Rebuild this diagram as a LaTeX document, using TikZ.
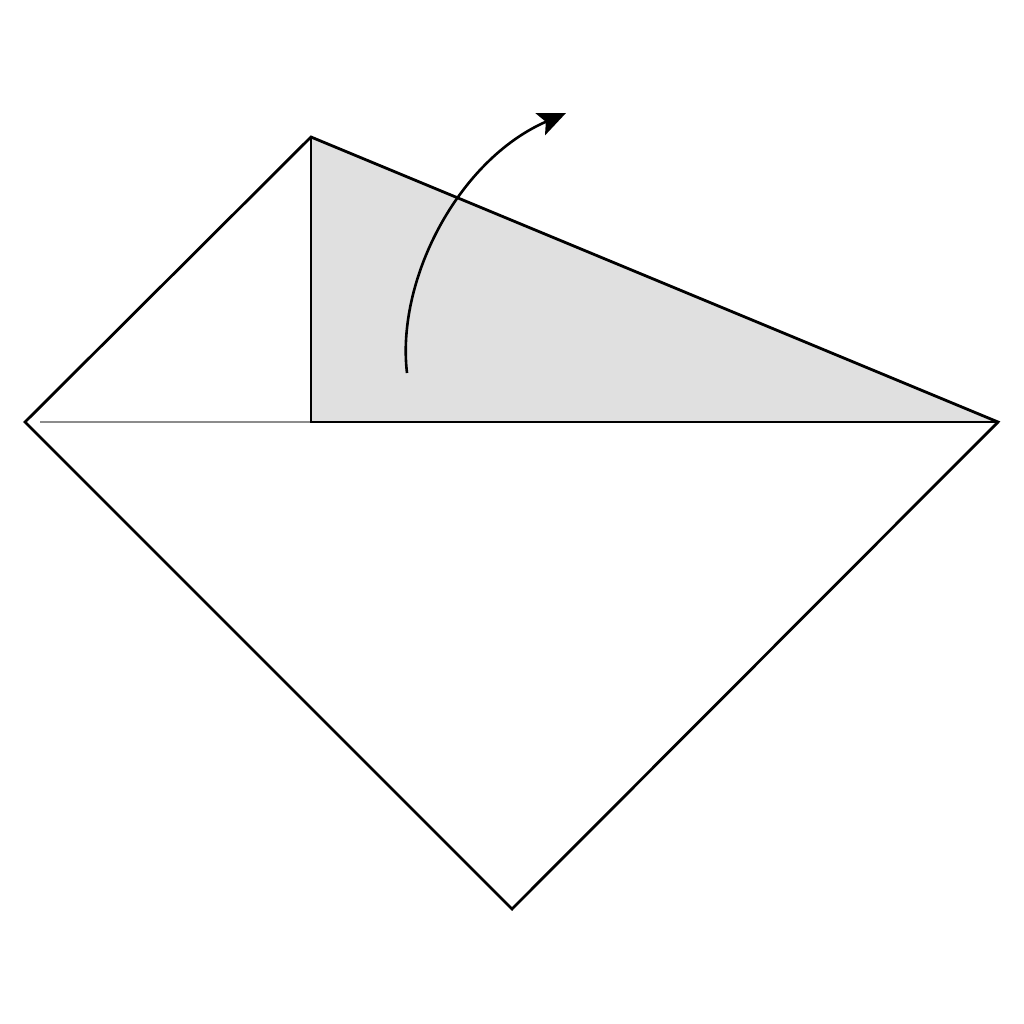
\documentclass[tikz,border=0pt]{standalone}
\usetikzlibrary{arrows.meta}

\begin{document}
\begin{tikzpicture}[x=1pt,y=-1pt,line join=miter]
    \tikzstyle{edge}=[draw=black,line width=2.8pt]
    \tikzstyle{crease}=[draw=black!45,line width=1.8pt]
    \tikzstyle{flap}=[fill=black!12]
    \tikzstyle{foldarrow}=[draw=black,line width=2.6pt,-{Stealth[length=28pt,width=24pt,inset=6pt]}]
    \useasboundingbox (0,0) rectangle (1024,1024);

    \foreach \name/\x/\y in {L/25/422, T/311/137, R/998/422, B/512/909, M/311/422, C/40/422}
        \coordinate (\name) at (\x,\y);
    \coordinate (A-start) at (407,373);
    \coordinate (A-end) at (566,113);

    \fill[flap] (T) -- (M) -- (R) -- cycle;
    \draw[crease] (C) -- (M);
    \draw[edge] (L) -- (T) -- (R) -- (B) -- cycle;
    \draw[edge] (T) -- (M) -- (R);

    \draw[foldarrow] (A-start) .. controls (396,280) and (458,160) .. (A-end);
\end{tikzpicture}
\end{document}
